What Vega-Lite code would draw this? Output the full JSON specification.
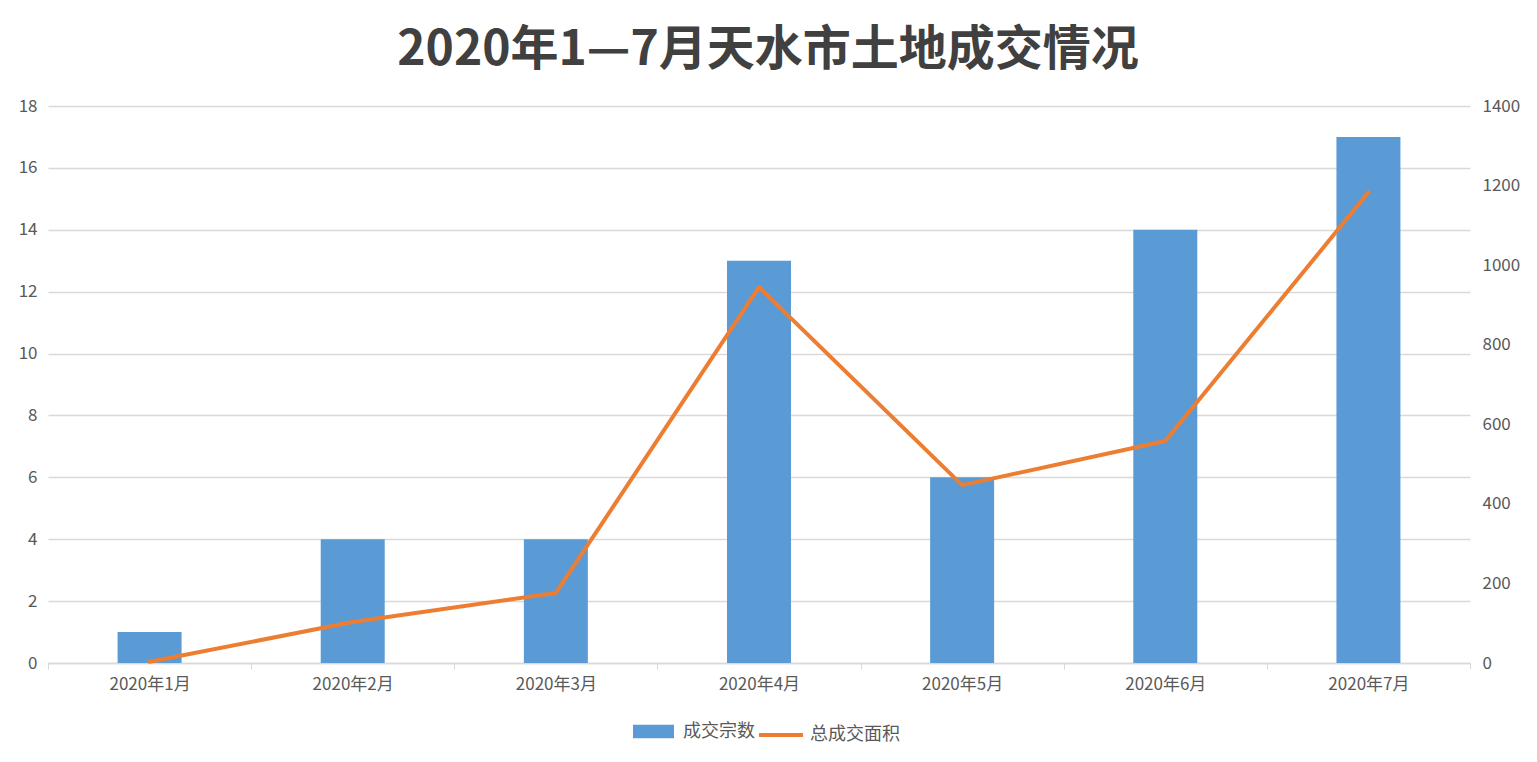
{
  "$schema": "https://vega.github.io/schema/vega-lite/v6.json",
  "autosize": "none",
  "width": 1422,
  "height": 557,
  "padding": {"left": 48, "top": 106, "right": 67, "bottom": 99},
  "background": "#ffffff",
  "title": {
    "text": "2020年1—7月天水市土地成交情况",
    "font": "Noto Sans CJK SC",
    "fontSize": 48,
    "fontWeight": "bold",
    "color": "#404040",
    "anchor": "middle",
    "dx": 9,
    "offset": 22
  },
  "config": {
    "view": {"stroke": null},
    "font": "Noto Sans CJK SC"
  },
  "data": {
    "values": [
      {"month": "2020年1月", "count": 1, "area": 3},
      {"month": "2020年2月", "count": 4, "area": 103},
      {"month": "2020年3月", "count": 4, "area": 176},
      {"month": "2020年4月", "count": 13, "area": 945},
      {"month": "2020年5月", "count": 6, "area": 447},
      {"month": "2020年6月", "count": 14, "area": 558},
      {"month": "2020年7月", "count": 17, "area": 1183}
    ]
  },
  "encoding": {
    "x": {
      "field": "month",
      "type": "nominal",
      "sort": null,
      "scale": {"paddingInner": 0, "paddingOuter": 0},
      "axis": {
        "title": null,
        "labelAngle": 0,
        "labelFont": "Noto Sans CJK SC",
        "labelFontSize": 17,
        "labelColor": "#595959",
        "labelPadding": 7,
        "tickBand": "extent",
        "tickSize": 6,
        "tickColor": "#d9d9d9",
        "domainColor": "#d9d9d9",
        "domainWidth": 1.5,
        "grid": false
      }
    }
  },
  "layer": [
    {
      "mark": {"type": "bar", "width": {"band": 0.315}},
      "encoding": {
        "y": {
          "field": "count",
          "type": "quantitative",
          "scale": {"domain": [0, 18], "nice": false},
          "axis": {
            "title": null,
            "values": [0, 2, 4, 6, 8, 10, 12, 14, 16, 18],
            "domain": false,
            "ticks": false,
            "labelFontSize": 17,
            "labelColor": "#595959",
            "labelPadding": 11,
            "gridColor": "#d9d9d9",
            "gridWidth": 1.5
          }
        },
        "fill": {
          "datum": "成交宗数",
          "scale": {"range": ["#5b9bd5"]},
          "legend": {
            "title": null,
            "orient": "none",
            "legendX": 585,
            "legendY": 605,
            "padding": 0,
            "symbolType": "M-1,-0.33H1V0.33H-1Z",
            "symbolSize": 1681,
            "symbolStrokeWidth": 0,
            "labelFontSize": 18,
            "labelColor": "#595959",
            "labelOffset": 9
          }
        }
      }
    },
    {
      "mark": {"type": "line", "strokeWidth": 4, "strokeJoin": "round", "strokeCap": "round"},
      "encoding": {
        "y": {
          "field": "area",
          "type": "quantitative",
          "scale": {"domain": [0, 1400], "nice": false},
          "axis": {
            "orient": "right",
            "title": null,
            "format": "d",
            "values": [0, 200, 400, 600, 800, 1000, 1200, 1400],
            "domain": false,
            "ticks": false,
            "grid": false,
            "labelFontSize": 17,
            "labelColor": "#595959",
            "labelPadding": 12
          }
        },
        "stroke": {
          "datum": "总成交面积",
          "scale": {"range": ["#ed7d31"]},
          "legend": {
            "title": null,
            "orient": "none",
            "legendX": 709,
            "legendY": 605,
            "padding": 0,
            "symbolType": "stroke",
            "symbolSize": 1936,
            "symbolStrokeWidth": 4,
            "labelFontSize": 18,
            "labelColor": "#595959",
            "labelOffset": 5
          }
        }
      }
    }
  ],
  "resolve": {"scale": {"y": "independent"}}
}
